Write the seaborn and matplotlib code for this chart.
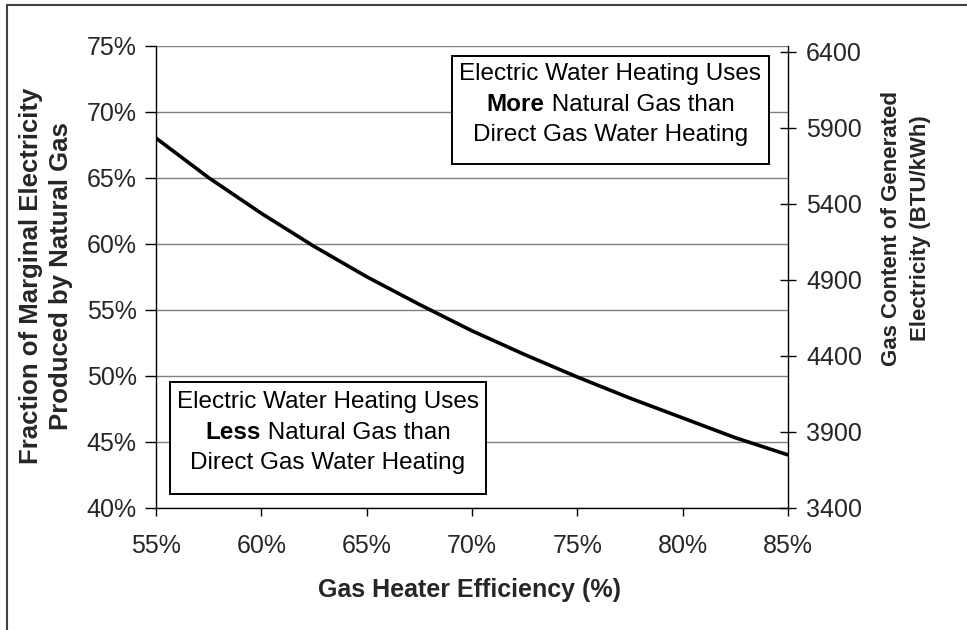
import matplotlib
matplotlib.use("Agg")
import matplotlib.pyplot as plt
import matplotlib.patches as mpatches
from matplotlib.offsetbox import TextArea, HPacker, VPacker, AnchoredOffsetbox
from matplotlib.ticker import FuncFormatter
import seaborn as sns
import pandas as pd

# values
efficiency = [55, 57.5, 60, 62.5, 65, 67.5, 70, 72.5, 75, 77.5, 80, 82.5, 85]
gas_fraction = [68.0, 65.0, 62.3, 59.8, 57.5, 55.4, 53.4, 51.6, 49.9, 48.3, 46.8, 45.3, 44.0]
left_ticks = [40, 45, 50, 55, 60, 65, 70, 75]
right_ticks = [3400, 3900, 4400, 4900, 5400, 5900, 6400]
x_ticks = [55, 60, 65, 70, 75, 80, 85]

# style
sns.set_theme(style="white")
plt.rcParams["font.family"] = ["Liberation Sans", "DejaVu Sans"]

fig = plt.figure(figsize=(9.67, 6.3), dpi=100)
ax = fig.add_axes([156 / 967, 1 - 507.7 / 630, 632 / 967, 462 / 630])

df = pd.DataFrame({"eff": efficiency, "frac": gas_fraction})
sns.lineplot(data=df, x="eff", y="frac", ax=ax, color="black", lw=2.6)

ax.set_xlim(55, 85)
ax.set_ylim(40, 75)
ax.set_xticks(x_ticks)
ax.set_yticks(left_ticks)
pct = FuncFormatter(lambda v, p: f"{v:.0f}%")
ax.xaxis.set_major_formatter(pct)
ax.yaxis.set_major_formatter(pct)
ax.set_xlabel("")
ax.set_ylabel("")

# gridlines on the left scale
ax.grid(axis="y", color="#808080", lw=1.0)
ax.grid(axis="x", visible=False)
for s in ["top", "right"]:
    ax.spines[s].set_visible(False)
for s in ["left", "bottom"]:
    ax.spines[s].set_color("black")
    ax.spines[s].set_linewidth(1.0)
ax.tick_params(axis="y", direction="out", length=8, width=1, color="black",
               labelsize=18, pad=6)
ax.tick_params(axis="x", direction="out", length=6, width=1, color="black",
               labelsize=18, pad=13, bottom=True)
ax.tick_params(left=True)

# right axis: gas content
ax2 = ax.twinx()
ax2.set_ylim(3400, 6440)
ax2.set_yticks(right_ticks)
ax2.grid(False)
for s in ["top", "left", "bottom"]:
    ax2.spines[s].set_visible(False)
ax2.spines["right"].set_color("black")
ax2.spines["right"].set_linewidth(1.0)
ax2.tick_params(axis="y", direction="inout", length=12, width=1, color="black",
                labelsize=18, pad=7, right=True)

# annotation boxes
def note_box(x0, y0, x1, y1, word):
    rect = mpatches.Rectangle((x0, y0), x1 - x0, y1 - y0, transform=ax.transAxes,
                              facecolor="white", edgecolor="black", lw=1.4,
                              zorder=5)
    ax.add_patch(rect)
    props = dict(fontsize=17.5, color="black", family="Liberation Sans")
    line1 = TextArea("Electric Water Heating Uses", textprops=props)
    line2 = HPacker(children=[TextArea(word, textprops=dict(props, weight="bold")),
                              TextArea(" Natural Gas than", textprops=props)],
                    align="baseline", pad=0, sep=0)
    line3 = TextArea("Direct Gas Water Heating", textprops=props)
    pack = VPacker(children=[line1, line2, line3], align="center", pad=0, sep=6)
    box = AnchoredOffsetbox(loc="center", child=pack, frameon=False, pad=0,
                            borderpad=0,
                            bbox_to_anchor=((x0 + x1) / 2, (y0 + y1) / 2 + 0.012),
                            bbox_transform=ax.transAxes)
    box.set_zorder(6)
    ax.add_artist(box)

note_box(0.468, 0.744, 0.970, 0.977, "More")
note_box(0.022, 0.030, 0.522, 0.272, "Less")

# axis titles
fig.text(470 / 967, 1 - 590 / 630, "Gas Heater Efficiency (%)", ha="center",
         va="center", fontsize=18, weight="bold")
fig.text(46 / 967, 1 - 276 / 630,
         "Fraction of Marginal Electricity\nProduced by Natural Gas",
         rotation=90, ha="center", va="center", multialignment="center",
         fontsize=18.5, weight="bold", linespacing=1.3)
fig.text(906 / 967, 1 - 228 / 630,
         "Gas Content of Generated\nElectricity (BTU/kWh)",
         rotation=90, ha="center", va="center", multialignment="center",
         fontsize=16, weight="bold", linespacing=1.5)

# outer frame (cropped at right and bottom in the reference)
frame = mpatches.Rectangle((7 / 967, -0.2), 1.5, 0.2 + 1 - 5 / 630,
                           transform=fig.transFigure, fill=False,
                           edgecolor="#404040", lw=1.5, clip_on=False)
fig.patches.append(frame)

fig.savefig("out.png", dpi=100, facecolor="white")
plt.close(fig)
